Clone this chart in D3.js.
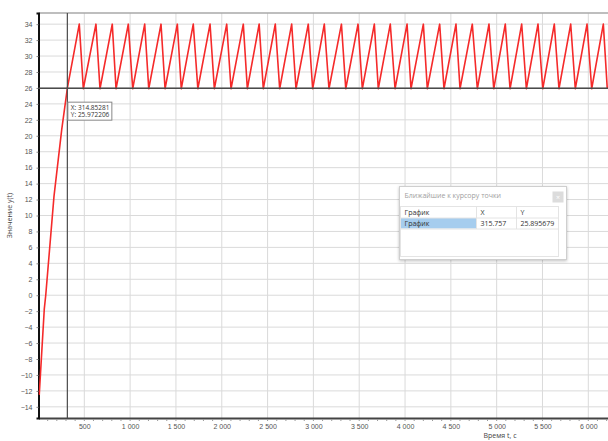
<!DOCTYPE html>
<html>
<head>
<meta charset="utf-8">
<script src="https://cdn.jsdelivr.net/npm/d3@7/dist/d3.min.js"></script>
<style>
	body { margin: 0; background: #fff; }
	svg { font-family: "Open Sans", "Liberation Sans", sans-serif; display: block; }
</style>
</head>
<body>
<div id="chart"></div>
<script>
// approach from the initial value up to the band
const riseTime = [8, 63, 79, 169, 253, 315];
const riseValue = [-12.5, -1.75, 0, 12.4, 20.75, 25.97];

// sawtooth inside the band: times of the tops and of the bottoms
const peakTime = [445, 627, 805, 980, 1159, 1337, 1515, 1689, 1872, 2054, 2235, 2408, 2584, 2763, 2944, 3119,
	3306, 3487, 3665, 3839, 4022, 4200, 4378, 4556, 4734, 4916, 5094, 5273, 5451, 5629, 5808, 5986, 6164];
const troughTime = [489, 671, 846, 1028, 1203, 1381, 1558, 1739, 1919, 2101, 2279, 2453, 2632, 2810, 2992, 3170,
	3353, 3534, 3708, 3891, 4065, 4243, 4425, 4600, 4789, 4968, 5146, 5324, 5503, 5680, 5858, 6037, 6207];
const peakValue = 34;
const troughValue = 25.9;

const xTicks = [500, 1000, 1500, 2000, 2500, 3000, 3500, 4000, 4500, 5000, 5500, 6000];
const yTicks = [-14, -12, -10, -8, -6, -4, -2, 0, 2, 4, 6, 8, 10, 12, 14, 16, 18, 20, 22, 24, 26, 28, 30, 32, 34];

const cursorT = 314.85281;
const cursorY = 25.972206;
const tableHeader = ["График", "X", "Y"];
const tableRow = ["График", "315.757", "25.895679"];

function drawChart() {
	const W = 608, H = 441;
	const margin = {top: 13, right: 0, bottom: 23, left: 38.5};
	const width = W - margin.left - margin.right,
		height = H - margin.top - margin.bottom;

	const svg = d3.select("#chart")
		.append("svg")
			.attr("width", W)
			.attr("height", H);

	const g = svg.append("g")
		.attr("transform", `translate(${margin.left},${margin.top})`);

	const x = d3.scaleLinear()
		.domain([0, 6215])
		.range([0, width]);
	const y = d3.scaleLinear()
		.domain([-15.4, 35.4])
		.range([height, 0]);

	const fmt = d3.formatLocale({decimal: ".", thousands: "\u00a0", grouping: [3], currency: ["", ""]}).format(",d");

	// grid
	g.append("g")
		.selectAll("line")
		.data(yTicks)
		.join("line")
			.attr("x1", 0).attr("x2", width)
			.attr("y1", d => y(d)).attr("y2", d => y(d))
			.attr("stroke", "#dadada");
	g.append("g")
		.selectAll("line")
		.data(xTicks)
		.join("line")
			.attr("x1", d => x(d)).attr("x2", d => x(d))
			.attr("y1", 0).attr("y2", height)
			.attr("stroke", "#dadada");

	// top border
	g.append("line")
		.attr("x1", 0).attr("x2", width)
		.attr("y1", 0).attr("y2", 0)
		.attr("stroke", "#a8a8a8").attr("stroke-width", 1.5);

	// X axis
	const xAxis = g.append("g")
		.attr("transform", `translate(0, ${height})`)
		.call(d3.axisBottom(x).tickValues(xTicks).tickFormat(fmt).tickSize(0).tickPadding(6));
	xAxis.select(".domain").attr("stroke", "#444").attr("stroke-width", 2);
	xAxis.selectAll("text").attr("fill", "#555").style("font-size", "7px");
	g.append("g")
		.attr("transform", `translate(0, ${height})`)
		.selectAll("line")
		.data(d3.range(100, 6215, 100))
		.join("line")
			.attr("x1", d => x(d)).attr("x2", d => x(d))
			.attr("y1", 1).attr("y2", 3)
			.attr("stroke", "#999");

	// Y axis
	const yAxis = g.append("g")
		.call(d3.axisLeft(y).tickValues(yTicks).tickFormat(d3.format("d")).tickSize(2).tickPadding(4));
	yAxis.select(".domain").attr("stroke", "#111").attr("stroke-width", 2);
	yAxis.selectAll(".tick line").attr("stroke", "#888");
	yAxis.selectAll("text").attr("fill", "#555").style("font-size", "7px");

	// axis titles
	svg.append("text")
		.attr("x", 500).attr("y", 438)
		.attr("text-anchor", "middle")
		.attr("fill", "#444")
		.style("font-size", "7px")
		.text("Время t, с");
	svg.append("text")
		.attr("transform", `translate(12, ${margin.top + height / 2}) rotate(-90)`)
		.attr("text-anchor", "middle")
		.attr("fill", "#444")
		.style("font-size", "7px")
		.text("Значение y(t)");

	// series
	const data = riseTime.map((t, i) => [t, riseValue[i]]);
	peakTime.forEach((t, i) => {
		data.push([t, peakValue]);
		data.push([troughTime[i], troughValue]);
	});

	svg.append("clipPath").attr("id", "clip")
		.append("rect").attr("width", width).attr("height", height);

	g.append("path")
		.datum(data)
		.attr("clip-path", "url(#clip)")
		.attr("fill", "none")
		.attr("stroke", "#f52a2a")
		.attr("stroke-width", 1.6)
		.attr("stroke-linejoin", "round")
		.attr("d", d3.line().x(d => x(d[0])).y(d => y(d[1])));

	// cursor cross
	g.append("line")
		.attr("x1", x(cursorT)).attr("x2", x(cursorT))
		.attr("y1", 0).attr("y2", height)
		.attr("stroke", "#4a4a4a").attr("stroke-width", 1.2);
	g.append("line")
		.attr("x1", 0).attr("x2", width)
		.attr("y1", y(cursorY)).attr("y2", y(cursorY))
		.attr("stroke", "#4a4a4a").attr("stroke-width", 1.5);

	// cursor label
	const lab = g.append("g")
		.attr("transform", `translate(${x(cursorT) + 0.5}, ${y(cursorY) + 14})`);
	lab.append("rect")
		.attr("width", 44).attr("height", 18)
		.attr("fill", "#fff").attr("stroke", "#888");
	lab.append("text").attr("x", 3).attr("y", 7.5)
		.style("font-size", "6.5px").attr("fill", "#333")
		.text(`X: ${cursorT}`);
	lab.append("text").attr("x", 3).attr("y", 15)
		.style("font-size", "6.5px").attr("fill", "#333")
		.text(`Y: ${cursorY}`);

	// nearest points window
	const defs = svg.append("defs");
	const f = defs.append("filter").attr("id", "shadow")
		.attr("x", -0.1).attr("y", -0.1).attr("width", 1.2).attr("height", 1.3);
	f.append("feDropShadow").attr("dx", 0).attr("dy", 1).attr("stdDeviation", 1.5)
		.attr("flood-color", "#000").attr("flood-opacity", 0.25);

	const win = svg.append("g").attr("transform", "translate(399.5, 186.5)");
	win.append("rect")
		.attr("width", 167).attr("height", 73)
		.attr("fill", "#fff").attr("stroke", "#cfcfcf")
		.attr("filter", "url(#shadow)");
	win.append("text").attr("x", 5).attr("y", 11)
		.style("font-size", "7px").attr("fill", "#a0a0a0")
		.text("Ближайшие к курсору точки");
	win.append("rect")
		.attr("x", 153).attr("y", 5).attr("width", 11).attr("height", 11)
		.attr("fill", "#dcdcdc");
	win.append("text").attr("x", 158.5).attr("y", 13)
		.attr("text-anchor", "middle")
		.style("font-size", "7px").attr("fill", "#fff")
		.text("×");

	const colX = [1, 77, 117, 159];
	const tbl = win.append("g").attr("transform", "translate(0, 20)");
	tbl.append("rect")
		.attr("x", 1).attr("y", 0).attr("width", 158).attr("height", 50)
		.attr("fill", "#fff").attr("stroke", "#e4e4e4");
	tbl.append("rect")
		.attr("x", 1.5).attr("y", 11.5).attr("width", 75).attr("height", 10.5)
		.attr("fill", "#a6cdee");
	[11.5, 22.5].forEach(yy => tbl.append("line")
		.attr("x1", 1).attr("x2", 159).attr("y1", yy).attr("y2", yy)
		.attr("stroke", "#e4e4e4"));
	[77, 117].forEach(xx => tbl.append("line")
		.attr("x1", xx).attr("x2", xx).attr("y1", 0).attr("y2", 22.5)
		.attr("stroke", "#e4e4e4"));
	tableHeader.forEach((d, i) => tbl.append("text")
		.attr("x", colX[i] + 4).attr("y", 8.5)
		.style("font-size", "7px").attr("fill", "#333").text(d));
	tableRow.forEach((d, i) => tbl.append("text")
		.attr("x", colX[i] + 4).attr("y", 19.5)
		.style("font-size", "7px").attr("fill", "#333").text(d));
}

drawChart();
</script>
</body>
</html>
